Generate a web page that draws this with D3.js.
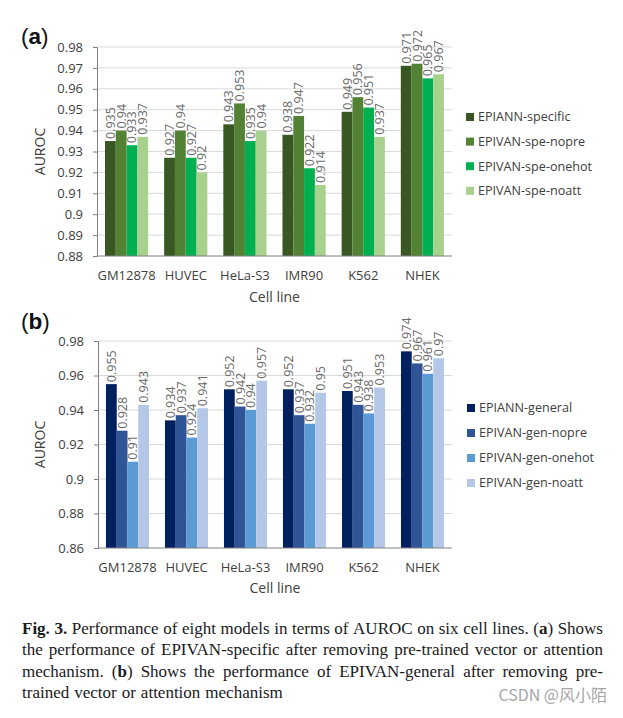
<!DOCTYPE html>
<html>
<head>
<meta charset="utf-8">
<script src="https://cdn.jsdelivr.net/npm/d3@7"></script>
<style>
  html, body { margin: 0; padding: 0; background: #fff; }
  svg { display: block; }
</style>
</head>
<body>
<svg id="chart" width="623" height="718"></svg>
<script>
const cellLines = ["GM12878", "HUVEC", "HeLa-S3", "IMR90", "K562", "NHEK"];

const seriesA = ["EPIANN-specific", "EPIVAN-spe-nopre", "EPIVAN-spe-onehot", "EPIVAN-spe-noatt"];
const valuesA = [
  [0.935, 0.927, 0.943, 0.938, 0.949, 0.971],
  [0.94, 0.94, 0.953, 0.947, 0.956, 0.972],
  [0.933, 0.927, 0.935, 0.922, 0.951, 0.965],
  [0.937, 0.92, 0.94, 0.914, 0.937, 0.967]
];
const ticksA = [0.88, 0.89, 0.9, 0.91, 0.92, 0.93, 0.94, 0.95, 0.96, 0.97, 0.98];
const colorsA = ["#385723", "#548235", "#00b050", "#a9d18e"];

const seriesB = ["EPIANN-general", "EPIVAN-gen-nopre", "EPIVAN-gen-onehot", "EPIVAN-gen-noatt"];
const valuesB = [
  [0.955, 0.934, 0.952, 0.952, 0.951, 0.974],
  [0.928, 0.937, 0.942, 0.937, 0.943, 0.967],
  [0.91, 0.924, 0.94, 0.932, 0.938, 0.961],
  [0.943, 0.941, 0.957, 0.95, 0.953, 0.97]
];
const ticksB = [0.86, 0.88, 0.9, 0.92, 0.94, 0.96, 0.98];
const colorsB = ["#002060", "#2f5597", "#5b9bd5", "#b4c7e7"];

// caption lines; **x** marks bold segments
const captionLines = [
  "**Fig. 3.** Performance of eight models in terms of AUROC on six cell lines. (**a**) Shows",
  "the performance of EPIVAN-specific after removing pre-trained vector or attention",
  "mechanism. (**b**) Shows the performance of EPIVAN-general after removing pre-",
  "trained vector or attention mechanism"
];

const svg = d3.select("#chart");
const FONT = "'Open Sans', 'DejaVu Sans', sans-serif";

function drawPanel(cfg) {
  const g = svg.append("g");
  const x = d3.scaleBand().domain(cellLines).range([cfg.x0, cfg.x1]).paddingInner(0.27).paddingOuter(0.135);
  const xs = d3.scaleBand().domain(d3.range(cfg.series.length)).range([0, x.bandwidth()]);
  const y = d3.scaleLinear().domain(cfg.domain).range([cfg.yBot, cfg.yTop]);

  // gridlines
  g.append("g").selectAll("line").data(cfg.ticks.slice(1)).join("line")
    .attr("x1", cfg.x0).attr("x2", cfg.x1)
    .attr("y1", d => y(d)).attr("y2", d => y(d))
    .attr("stroke", "#d9d9d9").attr("stroke-width", 1);

  // bars
  cfg.series.forEach((s, si) => {
    g.append("g").selectAll("rect").data(cfg.values[si]).join("rect")
      .attr("x", (d, i) => x(cellLines[i]) + xs(si))
      .attr("width", xs.bandwidth())
      .attr("y", d => y(d))
      .attr("height", d => y(cfg.domain[0]) - y(d))
      .attr("fill", cfg.colors[si]);
  });

  // value labels
  cfg.series.forEach((s, si) => {
    g.append("g").selectAll("text").data(cfg.values[si]).join("text")
      .attr("transform", (d, i) => {
        const cx = x(cellLines[i]) + xs(si) + xs.bandwidth() / 2;
        return `translate(${cx},${y(d) - 2}) rotate(-90)`;
      })
      .attr("dy", "0.36em")
      .attr("font-family", FONT).attr("font-size", 12.5)
      .attr("fill", "#6a6a6a")
      .text(d => String(d));
  });

  // y axis
  const ya = d3.axisLeft(y).tickValues(cfg.ticks).tickSize(4).tickPadding(10).tickFormat(d => String(+d.toFixed(2)));
  const yg = g.append("g").attr("transform", `translate(${cfg.x0},0)`).call(ya);
  yg.select(".domain").attr("stroke", "#808080");
  yg.selectAll(".tick line").attr("stroke", "#808080");
  yg.selectAll("text").attr("font-family", FONT).attr("font-size", 13).attr("fill", "#404040");

  // x axis
  const xa = d3.axisBottom(x).tickSize(0).tickPadding(15);
  const xg = g.append("g").attr("transform", `translate(0,${cfg.yBot})`).call(xa);
  xg.select(".domain").attr("stroke", "#808080").attr("d", `M${cfg.x0},0H${cfg.x1}`);
  xg.selectAll("text").attr("font-family", FONT).attr("font-size", 13).attr("fill", "#404040").attr("dy", "0.71em");

  // axis titles
  g.append("text").attr("x", (cfg.x0 + cfg.x1) / 2).attr("y", cfg.xTitleY)
    .attr("text-anchor", "middle").attr("font-family", FONT).attr("font-size", 14).attr("fill", "#404040")
    .text("Cell line");
  g.append("text").attr("transform", `translate(45,${(cfg.yTop + cfg.yBot) / 2}) rotate(-90)`)
    .attr("text-anchor", "middle").attr("font-family", FONT).attr("font-size", 14).attr("fill", "#404040")
    .text("AUROC");

  // panel letter
  const pl = g.append("text").attr("x", 21).attr("y", cfg.letterY)
    .attr("font-family", "'Liberation Sans', Arial, sans-serif").attr("font-size", 22.5).attr("fill", "#111");
  pl.append("tspan").text("(");
  pl.append("tspan").attr("font-weight", "bold").text(cfg.letter);
  pl.append("tspan").text(")");

  // legend
  const lg = g.append("g");
  cfg.series.forEach((s, si) => {
    const cy = cfg.legY + si * cfg.legStep;
    lg.append("rect").attr("x", cfg.legX).attr("y", cy - 4).attr("width", 8).attr("height", 8).attr("fill", cfg.colors[si]);
    lg.append("text").attr("x", cfg.legX + 12).attr("y", cy).attr("dy", "0.35em")
      .attr("font-family", FONT).attr("font-size", 12.6).attr("fill", "#404040").text(s);
  });
}

drawPanel({ series: seriesA, values: valuesA, colors: colorsA, ticks: ticksA, domain: [0.88, 0.98],
  x0: 97, x1: 452, yTop: 47, yBot: 256, xTitleY: 302, letter: "a", letterY: 44,
  legX: 466, legY: 117, legStep: 24.6 });

drawPanel({ series: seriesB, values: valuesB, colors: colorsB, ticks: ticksB, domain: [0.86, 0.98],
  x0: 98, x1: 452, yTop: 341, yBot: 548, xTitleY: 593, letter: "b", letterY: 329,
  legX: 467, legY: 408, legStep: 25 });

// caption
const capX0 = 22, capX1 = 603, capY0 = 634, capDy = 21.4;
const CAPFONT = "'Liberation Serif', 'DejaVu Serif', serif";
const cap = svg.append("g").attr("font-family", CAPFONT).attr("font-size", 17).attr("fill", "#1a1a1a");

function parseWords(line) {
  // split into words, then each word into [text, bold] segments
  const segs = line.split("**").map((t, i) => [t, i % 2 === 1]);
  const words = [[]];
  segs.forEach(([t, b]) => {
    const parts = t.split(" ");
    parts.forEach((p, pi) => {
      if (pi > 0) words.push([]);
      if (p.length) words[words.length - 1].push([p, b]);
    });
  });
  return words.filter(w => w.length);
}

captionLines.forEach((line, li) => {
  const yy = capY0 + li * capDy;
  const justify = li < captionLines.length - 1;
  const words = parseWords(line);
  const nodes = words.map(word => {
    const t = cap.append("text").attr("y", yy);
    word.forEach(([txt, bold]) => {
      t.append("tspan").attr("font-weight", bold ? "bold" : null).text(txt);
    });
    return t;
  });
  const widths = nodes.map(n => n.node().getComputedTextLength());
  const total = d3.sum(widths);
  const space = 5;
  const gap = justify ? (capX1 - capX0 - total) / (nodes.length - 1) : space;
  let cx = capX0;
  nodes.forEach((n, i) => { n.attr("x", cx); cx += widths[i] + gap; });
});

// watermark
svg.append("text").attr("x", 607).attr("y", 701).attr("text-anchor", "end")
  .attr("font-family", "'Noto Sans CJK SC', 'Noto Sans', sans-serif").attr("font-size", 16)
  .attr("fill", "#a6a6a6").text("CSDN @风小陌");
</script>
</body>
</html>
